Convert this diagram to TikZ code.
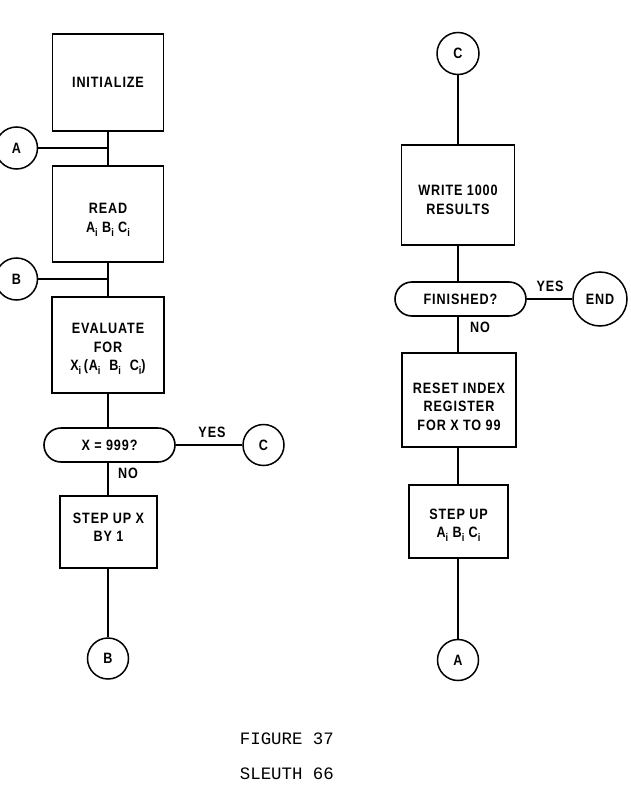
\documentclass[tikz,border=0pt]{standalone}
\usepackage{fontspec}
\setmainfont{Liberation Sans}[FakeStretch=0.84, LetterSpace=6]
\setmonofont{Liberation Mono}
\usetikzlibrary{shapes.misc}
\newcommand\ssub{\raisebox{-0.5ex}{\fontsize{11}{11}\selectfont i}}
\tikzset{
  every picture/.style={line width=1.8pt},
  proc/.style={draw, line width=1.7pt, align=center, font=\bfseries\fontsize{15}{18.5}\selectfont, inner sep=0pt},
  conn/.style={draw, circle, line width=1.5pt, inner sep=0pt, font=\bfseries\fontsize{15}{17}\selectfont},
  dec/.style={draw, rounded rectangle, line width=1.6pt, inner sep=0pt, font=\bfseries\fontsize{15}{17}\selectfont},
  lbl/.style={font=\bfseries\fontsize{15}{17}\selectfont, inner sep=0pt},
  captxt/.style={font=\ttfamily\fontsize{17.4}{20}\selectfont, inner sep=0pt, anchor=base west}
}
\begin{document}
\begin{tikzpicture}[x=1pt,y=-1pt]
\useasboundingbox (0,0) rectangle (631,792);
% left column
\node[proc, minimum width=111pt, minimum height=97pt] (init) at (108,82.5) {INITIALIZE};
\node[proc, minimum width=111pt, minimum height=96pt] (read) at (108,214) {\rule{0pt}{22pt}READ\\A\ssub\ B\ssub\ C\ssub};
\node[proc, minimum width=112pt, minimum height=96pt] (eval) at (108,345) {\rule{0pt}{18pt}EVALUATE\\FOR\\X\ssub\,(A\ssub\ \ B\ssub\ \ C\ssub)};
\node[dec, minimum width=131pt, minimum height=34pt] (d1) at (109.5,445) {X = 999?};
\node[proc, minimum width=97pt, minimum height=72pt] (stepx) at (108.5,532) {STEP UP X\\BY 1\rule[-9pt]{0pt}{0pt}};
\node[conn, minimum size=42pt] (A1) at (16.5,148) {A};
\node[conn, minimum size=42pt] (B1) at (16.5,279) {B};
\node[conn, minimum size=41pt] (C1) at (263.5,445) {C};
\node[conn, minimum size=41pt] (B2) at (108,658.5) {B};
\coordinate (jA) at (108,148);
\coordinate (jB) at (108,279);
\draw (init.south) -- (read.north);
\draw (A1) -- (jA);
\draw (read.south) -- (eval.north);
\draw (B1) -- (jB);
\draw (eval.south) -- (eval.south |- d1.north);
\draw (d1.east) -- (C1);
\draw (stepx.north -| eval.south) -- (eval.south |- d1.south);
\draw (stepx.south -| eval.south) -- (B2.north -| eval.south);
\node[lbl] (yes1) at (212,432) {YES};
\node[lbl] (no1) at (128,473) {NO};
% right column
\node[conn, minimum size=42pt] (C2) at (458,53.5) {C};
\node[proc, minimum width=113pt, minimum height=100pt] (write) at (458,195) {\rule{0pt}{20pt}WRITE 1000\\RESULTS};
\node[dec, minimum width=131pt, minimum height=34pt] (d2) at (460.5,299) {FINISHED?};
\node[conn, minimum size=54pt] (end) at (600,299) {END};
\node[proc, minimum width=114pt, minimum height=94pt] (reset) at (459,400) {\rule{0pt}{24pt}RESET INDEX\\REGISTER\\FOR X TO 99};
\node[proc, minimum width=99pt, minimum height=73pt] (stepa) at (458.5,521.5) {\rule{0pt}{18pt}STEP UP\\A\ssub\ B\ssub\ C\ssub};
\node[conn, minimum size=41pt] (A2) at (458,660) {A};
\draw (C2.south) -- (C2.south |- write.north);
\draw (C2.south |- write.south) -- (C2.south |- d2.north);
\draw (d2.east) -- (end);
\draw (C2.south |- d2.south) -- (C2.south |- reset.north);
\draw (C2.south |- reset.south) -- (C2.south |- stepa.north);
\draw (C2.south |- stepa.south) -- (A2.north);
\node[lbl] (yes2) at (550,286) {YES};
\node[lbl] (no2) at (480,327) {NO};
% caption
\node[captxt] (fig) at (239,744) {FIGURE 37};
\node[captxt] (sl) at (239,779) {SLEUTH 66};
\end{tikzpicture}
\end{document}
